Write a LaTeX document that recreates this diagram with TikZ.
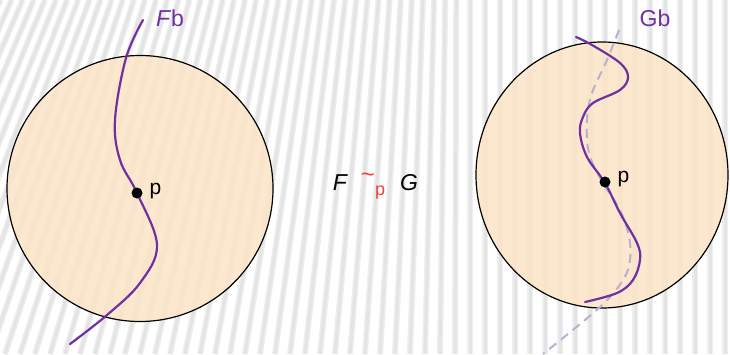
\documentclass[tikz,border=0pt]{standalone}
\usepackage{fontspec}
\setmainfont{Liberation Sans}
\begin{document}
\begin{tikzpicture}[x=1pt,y=-1pt,
  curvep/.style={draw=purp,line width=2.2pt,line cap=round},
  disc/.style={fill=peach,fill opacity=0.85,draw=black,line width=1.2pt},
  dot/.style={circle,fill=black,inner sep=0pt,minimum size=11pt},
  plab/.style={font=\fontsize{21}{21}\selectfont,anchor=west},
  curvelab/.style={font=\fontsize{23}{23}\selectfont,text=purp},
  eqlab/.style={font=\fontsize{23}{23}\selectfont\itshape}]
\definecolor{purp}{HTML}{7030A0}
\definecolor{peach}{HTML}{FBE4C6}
\definecolor{stripe}{HTML}{E4E4E4}
\definecolor{stripeb}{HTML}{EEEEEE}
\definecolor{dashc}{HTML}{B9B0CF}
\definecolor{redp}{HTML}{F04040}
\useasboundingbox (0,0) rectangle (730,354);
\fill[white] (0,0) rectangle (730,354);
\begin{scope}
\clip (0,0) rectangle (730,354);
\foreach \b in {-160,-145,...,740}{
  \pgfmathsetmacro{\s}{max(0,0.38*(1-(\b+60)/520))}
  \draw[stripeb,line width=6pt] (\b,354) -- ({\b+\s*354},0);
  \draw[stripe,line width=3pt] (\b,354) -- ({\b+\s*354},0);
}
\end{scope}
% discs
\draw[disc] (140,188.5) circle [radius=133];
\draw[disc] (602,175) ellipse [x radius=126, y radius=133];
% dashed curve
\draw[dashc,line width=2pt,dash pattern=on 9pt off 6pt] plot[smooth,tension=0.6] coordinates
 {(619,30) (607,60) (592,93) (587,120) (589,153) (603,183) (620,210) (629,237) (630,260) (623,280) (600,307) (543,354)};
% F curve
\draw[curvep] plot[smooth,tension=0.6] coordinates
 {(143,20) (126,58) (115,120) (120,160) (137,193) (157,245) (140,283) (107,315) (70,344)};
% G curve
\draw[curvep] plot[smooth,tension=0.6] coordinates
 {(576,37) (592,45) (620,63) (628,77) (620,90) (593,103) (583,117) (580,133) (587,157) (605,183) (620,213) (637,243) (640,260) (633,280) (617,293) (585,302)};
% points
\node[dot] (pF) at (137,193) {};
\node[dot] (pG) at (605,182) {};
\node[plab] (lpF) at (146,191) {p};
\node[plab] (lpG) at (614,179) {p};
% curve labels
\node[curvelab] (Fb) at (170,18) {\textit{F}b};
\node[curvelab] (Gb) at (655,18) {Gb};
% equivalence
\node[eqlab] (F) at (340,183) {F};
\node[font=\fontsize{24}{24}\selectfont,text=redp,inner sep=0pt] (tl) at (368,178) {\char"007E};
\node[font=\fontsize{18}{18}\selectfont,text=redp] (pp) at (380,193) {p};
\node[eqlab] (G) at (409,183) {G};
\end{tikzpicture}
\end{document}
